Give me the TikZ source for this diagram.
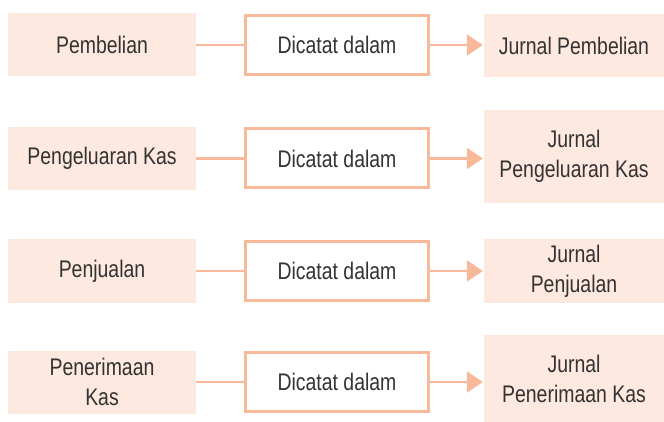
\documentclass[tikz,border=0pt]{standalone}
\usepackage{fontspec}
\setmainfont{Liberation Sans}[FakeStretch=0.81]
\usetikzlibrary{arrows.meta}
\definecolor{peach}{HTML}{FDE9DF}
\definecolor{salmon}{HTML}{F8B99B}
\definecolor{ink}{HTML}{333333}
\tikzstyle{src} = [fill=peach, text=ink, align=center, inner sep=0pt, minimum width=188pt, minimum height=63pt, font={\fontsize{24}{30}\selectfont}]
\tikzstyle{rec} = [src, draw=salmon, fill=white, line width=3pt, minimum width=183pt, minimum height=59pt]
\tikzstyle{jrn} = [src, minimum width=180pt]
\tikzstyle{link} = [draw=salmon, line width=2.5pt]
\tikzstyle{flow} = [link, -{Triangle[length=16pt,width=21pt]}, shorten >=1pt]

\begin{document}
\begin{tikzpicture}[x=1pt,y=-1pt]
  \useasboundingbox (0,0) rectangle (664,422);
  \node[src](s1) at (102,45){Pembelian};
  \node[src](s2) at (102,158.5){Pengeluaran Kas};
  \node[src](s3) at (102,271){Penjualan};
  \node[src](s4) at (102,382){Penerimaan\\Kas};
  \node[rec](r1) at (337,45){Dicatat dalam};
  \node[rec](r2) at (337,158.5){Dicatat dalam};
  \node[rec](r3) at (337,271){Dicatat dalam};
  \node[rec](r4) at (337,382){Dicatat dalam};
  \node[jrn](j1) at (574,45.5){Jurnal Pembelian};
  \node[jrn,minimum height=93pt](j2) at (574,156.5){Jurnal\\Pengeluaran Kas};
  \node[jrn,minimum height=64pt](j3) at (574,271){Jurnal\\Penjualan};
  \node[jrn,minimum height=88pt](j4) at (574,379){Jurnal\\Penerimaan Kas};
  \draw[link](s1)--(r1);
  \draw[link](s2)--(r2);
  \draw[link](s3)--(r3);
  \draw[link](s4)--(r4);
  \draw[flow](r1.east)--(r1.east -| j1.west);
  \draw[flow](r2.east)--(r2.east -| j2.west);
  \draw[flow](r3.east)--(r3.east -| j3.west);
  \draw[flow](r4.east)--(r4.east -| j4.west);
\end{tikzpicture}
\end{document}
